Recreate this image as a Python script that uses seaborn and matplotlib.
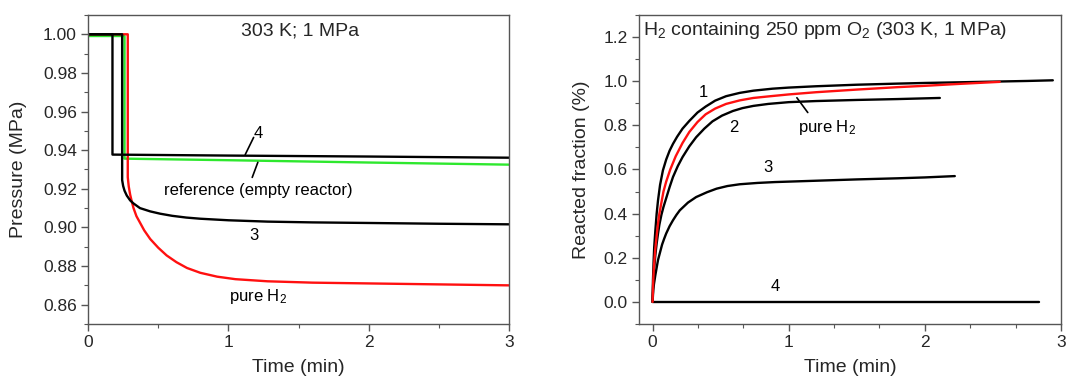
import matplotlib
matplotlib.use("Agg")
import matplotlib.pyplot as plt
from matplotlib.ticker import MultipleLocator, FormatStrFormatter
import seaborn as sns
import pandas as pd

# ---- Pressure traces (left panel) ----
t_ref = [0.0, 0.26, 0.26, 1.0, 2.0, 3.0]
p_ref = [0.9991, 0.9991, 0.9356, 0.9348, 0.9336, 0.9325]

t_4 = [0.0, 0.174, 0.174, 1.0, 2.0, 3.0]
p_4 = [1.000, 1.000, 0.9377, 0.9372, 0.9367, 0.9361]

t_3 = [0.0, 0.243, 0.243, 0.25, 0.26, 0.276, 0.30, 0.324, 0.37, 0.443, 0.514, 0.60,
       0.70, 0.80, 1.0, 1.28, 1.6, 2.0, 2.5, 3.0]
p_3 = [1.000, 1.000, 0.9245, 0.9215, 0.9190, 0.9165, 0.9140, 0.9124, 0.9100, 0.9083, 0.9071, 0.9060,
       0.9051, 0.9045, 0.9037, 0.9030, 0.9026, 0.9023, 0.9019, 0.9016]

t_pure = [0.0, 0.283, 0.283, 0.29, 0.30, 0.312, 0.324, 0.345, 0.37, 0.40, 0.443, 0.50, 0.56,
          0.63, 0.705, 0.80, 0.92, 1.05, 1.28, 1.6, 2.0, 2.5, 3.0]
p_pure = [1.000, 1.000, 0.9260, 0.9212, 0.9170, 0.9133, 0.9100, 0.9058, 0.9025, 0.8985, 0.8940, 0.8895, 0.8855,
          0.8820, 0.8790, 0.8765, 0.8745, 0.8732, 0.8721, 0.8714, 0.8710, 0.8705, 0.8700]

# ---- Reacted fraction traces (right panel) ----
t_c1 = [0.0, 0.003, 0.008, 0.012, 0.02, 0.03, 0.04, 0.055, 0.076, 0.10, 0.125, 0.15, 0.18,
        0.22, 0.27, 0.33, 0.39, 0.46, 0.54, 0.64, 0.74, 0.88, 1.0, 1.2, 1.5, 1.8, 2.0,
        2.26, 2.5, 2.75, 2.94]
f_c1 = [0.0, 0.10, 0.19, 0.248, 0.32, 0.40, 0.46, 0.53, 0.596, 0.645, 0.685, 0.716, 0.748,
        0.785, 0.820, 0.858, 0.885, 0.912, 0.932, 0.947, 0.957, 0.966, 0.971, 0.977, 0.984,
        0.989, 0.992, 0.995, 0.998, 1.001, 1.004]

t_pure_f = [0.0, 0.005, 0.01, 0.02, 0.03, 0.04, 0.05, 0.065, 0.08, 0.10, 0.13, 0.17, 0.22,
            0.27, 0.33, 0.39, 0.46, 0.54, 0.64, 0.74, 0.85, 1.0, 1.2, 1.5, 1.8, 2.0, 2.26, 2.55]
f_pure = [0.0, 0.10, 0.16, 0.24, 0.30, 0.355, 0.40, 0.45, 0.50, 0.545, 0.60, 0.66, 0.72,
          0.77, 0.815, 0.85, 0.876, 0.897, 0.913, 0.924, 0.931, 0.940, 0.950, 0.962, 0.973,
          0.979, 0.988, 0.997]

t_c2 = [0.0, 0.005, 0.01, 0.02, 0.03, 0.04, 0.05, 0.065, 0.08, 0.10, 0.125, 0.15, 0.185,
        0.22, 0.27, 0.32, 0.38, 0.44, 0.51, 0.59, 0.66, 0.74, 0.85, 1.0, 1.2, 1.5, 1.8, 2.11]
f_c2 = [0.0, 0.09, 0.14, 0.21, 0.265, 0.31, 0.35, 0.395, 0.43, 0.47, 0.52, 0.566, 0.615,
        0.656, 0.705, 0.746, 0.785, 0.818, 0.844, 0.865, 0.878, 0.888, 0.897, 0.905, 0.910,
        0.915, 0.919, 0.924]

t_c3 = [0.0, 0.005, 0.01, 0.02, 0.03, 0.04, 0.055, 0.07, 0.085, 0.10, 0.125, 0.15, 0.175,
        0.20, 0.26, 0.32, 0.40, 0.47, 0.55, 0.64, 0.77, 0.9, 1.0, 1.25, 1.5, 1.8, 2.0, 2.22]
f_c3 = [0.0, 0.054, 0.08, 0.12, 0.155, 0.19, 0.225, 0.26, 0.286, 0.31, 0.343, 0.37, 0.394,
        0.415, 0.45, 0.475, 0.497, 0.513, 0.525, 0.533, 0.539, 0.543, 0.545, 0.550, 0.555,
        0.560, 0.564, 0.570]

t_c4 = [0.0, 2.84]
f_c4 = [0.0, 0.0]

BLACK = "#000000"
RED = "#ff1010"
GREEN = "#2ee82e"
SPINE = "#555555"

sns.set_theme(style="ticks")
plt.rcParams["font.family"] = ["Liberation Sans", "DejaVu Sans"]
plt.rcParams["mathtext.fontset"] = "custom"
plt.rcParams["mathtext.rm"] = "Liberation Sans"
plt.rcParams["mathtext.it"] = "Liberation Sans"

fig = plt.figure(figsize=(10.66, 3.78), dpi=100)
ax1 = fig.add_axes([0.0826, 0.1429, 0.3949, 0.8175])
ax2 = fig.add_axes([0.5994, 0.1429, 0.3959, 0.8175])


def trace(ax, t, y, color):
    df = pd.DataFrame({"t": t, "y": y})
    sns.lineplot(data=df, x="t", y="y", sort=False, estimator=None,
                 color=color, linewidth=1.7, ax=ax)


trace(ax1, t_ref, p_ref, GREEN)
trace(ax1, t_pure, p_pure, RED)
trace(ax1, t_3, p_3, BLACK)
trace(ax1, t_4, p_4, BLACK)

trace(ax2, t_c4, f_c4, BLACK)
trace(ax2, t_c3, f_c3, BLACK)
trace(ax2, t_c2, f_c2, BLACK)
trace(ax2, t_c1, f_c1, BLACK)
trace(ax2, t_pure_f, f_pure, RED)

for ax in (ax1, ax2):
    for s in ax.spines.values():
        s.set_color(SPINE)
        s.set_linewidth(1.0)
    ax.tick_params(which="major", direction="out", length=5, width=1.0,
                   color=SPINE, labelsize=12.5, pad=3)
    ax.tick_params(which="minor", direction="out", length=3, width=0.8, color=SPINE)
    ax.set_xlabel("Time (min)", fontsize=14)
    ax.xaxis.set_label_coords(0.5, -0.142)
    ax.xaxis.label.set_va("center")

ax1.set_xlim(0, 3)
ax1.set_ylim(0.85, 1.01)
ax1.xaxis.set_major_locator(MultipleLocator(1))
ax1.xaxis.set_minor_locator(MultipleLocator(0.5))
ax1.yaxis.set_major_locator(MultipleLocator(0.02))
ax1.yaxis.set_minor_locator(MultipleLocator(0.01))
ax1.yaxis.set_major_formatter(FormatStrFormatter("%.2f"))
ax1.set_ylabel("Pressure (MPa)", fontsize=14)
ax1.yaxis.set_label_coords(-0.166, 0.5)
ax1.yaxis.label.set_va("center")

ax2.set_xlim(-0.1, 3)
ax2.set_ylim(-0.1, 1.3)
ax2.xaxis.set_major_locator(MultipleLocator(1))
ax2.xaxis.set_minor_locator(MultipleLocator(1 / 3))
ax2.yaxis.set_major_locator(MultipleLocator(0.2))
ax2.yaxis.set_minor_locator(MultipleLocator(0.1))
ax2.yaxis.set_major_formatter(FormatStrFormatter("%.1f"))
ax2.set_ylabel("Reacted fraction (%)", fontsize=14)
ax2.yaxis.set_label_coords(-0.137, 0.5)
ax2.yaxis.label.set_va("center")

# Left panel annotations
txt = dict(fontsize=12, ha="center", va="center", color="black")
ax1.text(1.51, 1.0016, "303 K; 1 MPa", fontsize=14, ha="center", va="center")
ax1.text(1.21, 0.9487, "4", **txt)
ax1.plot([1.18, 1.12], [0.9466, 0.9377], color="black", lw=1.2)
ax1.text(1.21, 0.9192, "reference (empty reactor)", **txt)
ax1.plot([1.17, 1.21], [0.9259, 0.9337], color="black", lw=1.2)
ax1.text(1.18, 0.8959, "3", **txt)
ax1.text(1.21, 0.8643, r"pure H$_2$", **txt)

# Right panel annotations
ax2.text(-0.074, 1.228, r"H$_2$ containing 250 ppm O$_2$ (303 K, 1 MPa)",
         fontsize=14, ha="left", va="center")
ax2.text(0.37, 0.948, "1", **txt)
ax2.text(0.60, 0.79, "2", **txt)
ax2.text(1.28, 0.79, r"pure H$_2$", **txt)
ax2.plot([1.06, 1.14], [0.925, 0.858], color="black", lw=1.2)
ax2.text(0.85, 0.61, "3", **txt)
ax2.text(0.90, 0.068, "4", **txt)

fig.savefig("out.png", dpi=100)
